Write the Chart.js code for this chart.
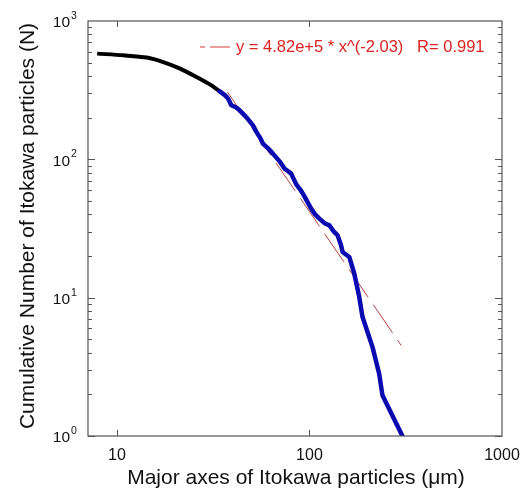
<!DOCTYPE html>
<html>
<head>
<meta charset="utf-8">
<script src="https://cdn.jsdelivr.net/npm/chart.js@4"></script>
<style>
  body { margin: 0; background: #fff; }
  #c { display: block; }
</style>
</head>
<body>
<canvas id="c" width="531" height="495"></canvas>
<script>
// data (x in µm, y = cumulative count)
const blackX = [7.9, 10.8, 14.3, 17.4, 21.3, 25.9, 30.4, 34.2];
const blackY = [581, 565, 544, 505, 453, 394, 348, 310];

const blueX = [34.2, 36.5, 37.8, 39.3, 41.5, 43.4, 47.0, 50.9, 53.0, 55.5, 57.3, 61, 64.6, 70.0, 74.2, 77.5, 80.4, 85.4, 90, 94.2, 102, 107, 112.6, 120, 126.9, 134, 140.1, 145.9, 148.7, 161, 171, 181.4, 188.7, 212.6, 230.2, 239.4, 303.9];
const blueY = [310, 290, 275, 246, 238, 226, 202, 176, 158, 143, 130, 120, 110, 96.7, 85.7, 82, 78.8, 65.9, 60, 54.0, 44.0, 40, 37.3, 34.5, 33.3, 30, 28.2, 23.9, 21.4, 19.7, 14.9, 10.1, 7.24, 4.39, 2.82, 1.97, 1.0];

// power-law fit, end points
const fitX = [37.5, 300];
const fitY = [307, 4.5];

const xTicks = [10, 100, 1000];
const yTicks = [1, 10, 100, 1000];
const fitLabel = 'y = 4.82e+5 * x^(-2.03)   R= 0.991';

const toXY = (xs, ys) => xs.map((x, i) => ({ x: x, y: ys[i] }));

const FONT = '"Liberation Sans", Arial, sans-serif';

// frame, inside ticks, labels and titles
const decor = {
  id: 'decor',
  afterDraw(chart) {
    const ctx = chart.ctx;
    const a = chart.chartArea;
    const xs = chart.scales.x, ys = chart.scales.y;
    ctx.save();
    ctx.strokeStyle = '#555';
    ctx.lineWidth = 1.2;
    ctx.strokeRect(a.left, a.top, a.right - a.left, a.bottom - a.top);

    // y ticks, major and minor, both sides
    ctx.lineWidth = 1;
    for (let d = 0; d < 3; d++) {
      for (let m = 1; m <= 9; m++) {
        const v = m * Math.pow(10, d);
        const py = Math.round(ys.getPixelForValue(v)) + 0.5;
        const len = m === 1 ? 7 : 4;
        ctx.beginPath();
        ctx.moveTo(a.left, py); ctx.lineTo(a.left + len, py);
        ctx.moveTo(a.right, py); ctx.lineTo(a.right - len, py);
        ctx.stroke();
      }
    }
    // x ticks, majors only
    [10, 100].forEach(v => {
      const px = Math.round(xs.getPixelForValue(v)) + 0.5;
      ctx.beginPath();
      ctx.moveTo(px, a.bottom); ctx.lineTo(px, a.bottom - 6);
      ctx.moveTo(px, a.top); ctx.lineTo(px, a.top + 6);
      ctx.stroke();
    });

    // tick labels
    ctx.fillStyle = '#111';
    ctx.font = '16px ' + FONT;
    ctx.textAlign = 'center';
    ctx.textBaseline = 'middle';
    xTicks.forEach(v => {
      ctx.fillText(String(v), xs.getPixelForValue(v), 456);
    });
    yTicks.forEach(v => {
      const py = ys.getPixelForValue(v);
      const e = String(Math.round(Math.log10(v)));
      ctx.font = '15.5px ' + FONT;
      ctx.textAlign = 'right';
      ctx.textBaseline = 'middle';
      ctx.fillText('10', 70, py + 2);
      ctx.font = '10.5px ' + FONT;
      ctx.textAlign = 'left';
      ctx.fillText(e, 71, py - 5);
    });

    // axis titles
    ctx.font = '21px ' + FONT;
    ctx.textAlign = 'center';
    ctx.textBaseline = 'middle';
    ctx.fillText('Major axes of Itokawa particles (\u03bcm)', 296, 478);
    ctx.save();
    ctx.translate(28, 226);
    ctx.rotate(-Math.PI / 2);
    ctx.fillText('Cumulative Number of Itokawa particles (N)', 0, 0);
    ctx.restore();

    // fit legend
    ctx.strokeStyle = '#d23a3a';
    ctx.lineWidth = 1;
    ctx.beginPath();
    ctx.moveTo(200, 47); ctx.lineTo(205, 47);
    ctx.moveTo(210, 47); ctx.lineTo(230, 47);
    ctx.stroke();
    ctx.fillStyle = '#dd2222';
    ctx.font = '16.5px ' + FONT;
    ctx.textAlign = 'left';
    ctx.fillText(fitLabel, 236, 47);
    ctx.restore();
  }
};

new Chart(document.getElementById('c'), {
  type: 'scatter',
  data: {
    datasets: [
      {
        data: toXY(fitX, fitY),
        showLine: true,
        borderColor: '#b84040',
        borderWidth: 1,
        borderDash: [34, 9],
        pointRadius: 0,
        order: 3
      },
      {
        data: toXY(blackX, blackY),
        showLine: true,
        borderColor: '#000',
        borderWidth: 4,
        pointRadius: 0,
        tension: 0.3,
        order: 2
      },
      {
        data: toXY(blueX, blueY),
        showLine: true,
        borderColor: '#0a0ab0',
        borderWidth: 4.5,
        pointRadius: 0,
        borderCapStyle: 'round',
        borderJoinStyle: 'round',
        order: 1
      }
    ]
  },
  options: {
    responsive: false,
    animation: false,
    devicePixelRatio: 1,
    layout: { padding: { left: 88, top: 21, right: 29, bottom: 59 } },
    plugins: { legend: { display: false }, tooltip: { enabled: false } },
    scales: {
      x: { type: 'logarithmic', min: 7.08, max: 1000, display: false },
      y: { type: 'logarithmic', min: 1, max: 1000, display: false }
    }
  },
  plugins: [decor]
});
</script>
</body>
</html>
